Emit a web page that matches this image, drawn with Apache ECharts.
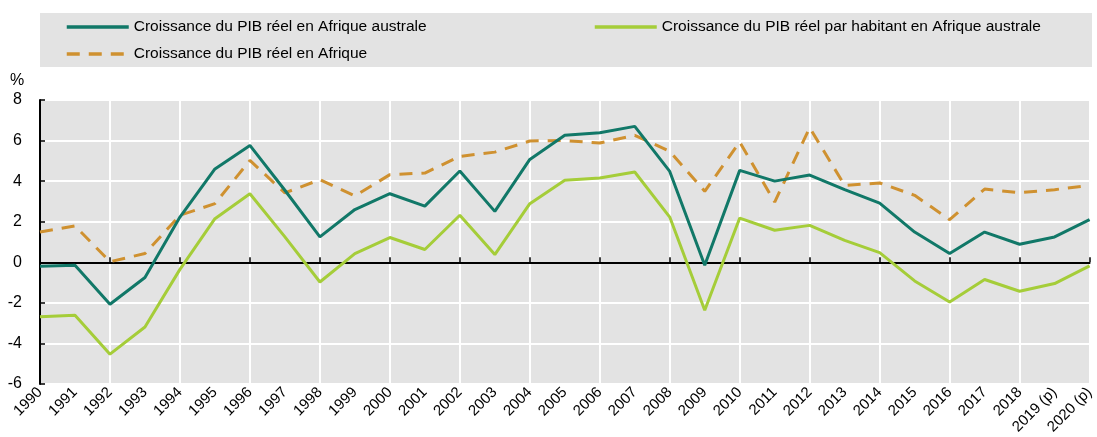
<!DOCTYPE html>
<html lang="fr">
<head>
<meta charset="UTF-8">
<title>Croissance du PIB</title>
<script src="https://cdn.jsdelivr.net/npm/echarts@6/dist/echarts.min.js"></script>
<style>
    html, body { margin: 0; padding: 0; background: #fff; }
    #main { width: 1097px; height: 437px; }
</style>
</head>
<body>
<div id="main"></div>
<script>
    // années
    var years = ['1990', '1991', '1992', '1993', '1994', '1995', '1996', '1997', '1998', '1999',
        '2000', '2001', '2002', '2003', '2004', '2005', '2006', '2007', '2008', '2009',
        '2010', '2011', '2012', '2013', '2014', '2015', '2016', '2017', '2018', '2019 (p)', '2020 (p)'];
    // PIB réel Afrique australe
    var pibAustrale = [-0.2, -0.15, -2.07, -0.75, 2.23, 4.6, 5.76, 3.55, 1.25, 2.6,
        3.38, 2.77, 4.5, 2.51, 5.07, 6.26, 6.39, 6.7, 4.48, -0.15,
        4.53, 4.0, 4.3, 3.58, 2.92, 1.49, 0.43, 1.49, 0.89, 1.25, 2.1];
    // PIB réel par habitant Afrique australe
    var pibHabitant = [-2.69, -2.61, -4.53, -3.19, -0.35, 2.15, 3.38, 1.25, -0.97, 0.43,
        1.22, 0.63, 2.32, 0.38, 2.89, 4.04, 4.15, 4.45, 2.23, -2.36,
        2.18, 1.58, 1.82, 1.08, 0.48, -0.92, -1.96, -0.85, -1.43, -1.05, -0.18];
    // PIB réel Afrique
    var pibAfrique = [1.49, 1.79, 0.03, 0.43, 2.32, 2.89, 5.02, 3.42, 4.07, 3.27,
        4.32, 4.4, 5.22, 5.43, 5.98, 6.0, 5.88, 6.26, 5.47, 3.5,
        5.93, 2.97, 6.63, 3.79, 3.91, 3.3, 2.1, 3.61, 3.43, 3.58, 3.79];
    var yTicks = [-6, -4, -2, 0, 2, 4, 6, 8];

    var noms = ['Croissance du PIB réel en Afrique australe',
        'Croissance du PIB réel par habitant en Afrique australe',
        'Croissance du PIB réel en Afrique'];

    var chart = echarts.init(document.getElementById('main'));
    var police = 'Liberation Sans, Arial, sans-serif';
    var legendeTexte = { fontFamily: police, fontSize: 15.5, color: '#000' };
    // pas de pastille dans la légende, seulement le trait
    var legendeItem = { opacity: 0 };
    var legendeTrait = { width: 3.5 };

    var option = {
        animation: false,
        textStyle: { fontFamily: police },
        graphic: [
            { type: 'rect', left: 40, top: 13, shape: { width: 1052, height: 54 }, style: { fill: '#e3e3e3' }, z: -1 },
            { type: 'text', left: 10, top: 73, style: { text: '%', font: '16px ' + police, fill: '#000' } }
        ],
        legend: [
            {
                data: [noms[0], noms[2]], orient: 'vertical', left: 60, top: 14,
                itemWidth: 62, itemHeight: 14, itemGap: 11,
                textStyle: legendeTexte, itemStyle: legendeItem, lineStyle: legendeTrait
            },
            {
                data: [noms[1]], orient: 'vertical', left: 588, top: 14,
                itemWidth: 62, itemHeight: 14, itemGap: 11,
                textStyle: legendeTexte, itemStyle: legendeItem, lineStyle: legendeTrait
            }
        ],
        grid: {
            left: 40, right: 7, top: 100, bottom: 53,
            show: true, backgroundColor: '#e3e3e3', borderWidth: 0
        },
        xAxis: [
            {
                type: 'category', data: years, boundaryGap: false,
                axisLine: { onZero: true, lineStyle: { color: '#000', width: 2 } },
                axisTick: { inside: true, length: 5, lineStyle: { color: '#000', width: 1.5 } },
                axisLabel: { show: false },
                splitLine: { show: true, lineStyle: { color: '#fff', width: 2 } }
            },
            {
                type: 'category', data: years, boundaryGap: false, position: 'bottom',
                axisLine: { show: false, onZero: false },
                axisTick: { show: false },
                splitLine: { show: false },
                axisLabel: { rotate: 45, margin: 6, fontSize: 15, color: '#000', interval: 0 }
            }
        ],
        yAxis: {
            type: 'value', min: yTicks[0], max: yTicks[yTicks.length - 1], interval: 2,
            axisLine: { show: true, onZero: false, lineStyle: { color: '#000', width: 2 } },
            axisTick: { show: true, inside: true, length: 5, lineStyle: { color: '#000', width: 1.5 } },
            axisLabel: { fontSize: 16, color: '#000', margin: 18 },
            splitLine: { lineStyle: { color: '#fff', width: 2 } }
        },
        series: [
            {
                name: noms[0], type: 'line', data: pibAustrale, symbol: 'none',
                lineStyle: { color: '#117868', width: 3 }, itemStyle: { color: '#117868' }, z: 4
            },
            {
                name: noms[1], type: 'line', data: pibHabitant, symbol: 'none',
                lineStyle: { color: '#a5cd39', width: 3 }, itemStyle: { color: '#a5cd39' }, z: 3
            },
            {
                name: noms[2], type: 'line', data: pibAfrique, symbol: 'none',
                lineStyle: { color: '#cf9130', width: 3, type: [13, 9] }, itemStyle: { color: '#cf9130' }, z: 2
            }
        ]
    };
    chart.setOption(option);
</script>
</body>
</html>
